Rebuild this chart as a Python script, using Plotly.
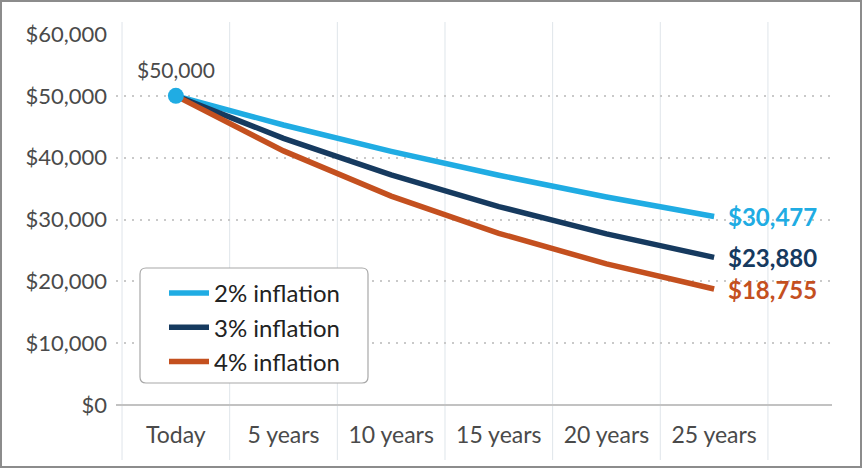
import plotly.graph_objects as go

categories = ["Today", "5 years", "10 years", "15 years", "20 years", "25 years"]
series_names = ["2% inflation", "3% inflation", "4% inflation"]
values_2 = [50000, 45287, 41017, 37151, 33649, 30477]
values_3 = [50000, 43130, 37205, 32093, 27684, 23880]
values_4 = [50000, 41096, 33778, 27763, 22819, 18755]
end_labels = ["$30,477", "$23,880", "$18,755"]
start_label = "$50,000"
y_ticks = [0, 10000, 20000, 30000, 40000, 50000, 60000]
y_ticktext = ["$0", "$10,000", "$20,000", "$30,000", "$40,000", "$50,000", "$60,000"]

colors = ["#20ace3", "#163a5f", "#c4501f"]
all_values = [values_2, values_3, values_4]

W, H = 862, 468
L, R, T, B = 116, 30, 34, 63
PW, PH = W - L - R, H - T - B


def px(p):
    return (p - L) / PW


def py(p):
    return (H - B - p) / PH


fig = go.Figure()
for i, (name, vals) in enumerate(zip(series_names, all_values)):
    fig.add_trace(go.Scatter(
        x=categories, y=vals, mode="lines", name=name,
        line=dict(color=colors[i], width=5.5),
        legendgroup=name, cliponaxis=False,
    ))

fig.add_trace(go.Scatter(
    x=[categories[0]], y=[values_2[0]], mode="markers",
    marker=dict(color=colors[0], size=16), showlegend=False, cliponaxis=False,
))

annotations = [dict(
    x=categories[0], y=values_2[0], text=start_label, showarrow=False,
    yshift=26, font=dict(family="Lato", size=21, color="#4a4a4a"),
)]
for i, vals in enumerate(all_values):
    annotations.append(dict(
        x=categories[-1], y=vals[-1], text="<b>" + end_labels[i] + "</b>",
        showarrow=False, xanchor="left", xshift=12,
        font=dict(family="Lato", size=24, color=colors[i]),
    ))

shapes = []
# vertical band separators
for k in range(7):
    shapes.append(dict(
        type="line", xref="x", yref="paper", x0=k - 0.5, x1=k - 0.5,
        y0=py(460), y1=py(22), line=dict(color="#dfe5ea", width=1), layer="below",
    ))
# rounded legend box
x0, x1, y0, y1, r = px(140), px(368), py(383), py(268), 6
rx, ry = r / PW, r / PH
path = (f"M {x0+rx},{y0} L {x1-rx},{y0} Q {x1},{y0} {x1},{y0+ry} "
        f"L {x1},{y1-ry} Q {x1},{y1} {x1-rx},{y1} L {x0+rx},{y1} "
        f"Q {x0},{y1} {x0},{y1-ry} L {x0},{y0+ry} Q {x0},{y0} {x0+rx},{y0} Z")
shapes.append(dict(type="path", xref="paper", yref="paper", path=path,
                   fillcolor="white", line=dict(color="#a8a8a8", width=1.2)))
# outer border
shapes.append(dict(type="rect", xref="paper", yref="paper",
                   x0=px(1), x1=px(861), y0=py(467), y1=py(1),
                   line=dict(color="#8c8c8c", width=2)))

fig.update_layout(
    width=W, height=H, margin=dict(l=L, r=R, t=T, b=B),
    paper_bgcolor="white", plot_bgcolor="white",
    font=dict(family="Lato", color="#4a4a4a"),
    shapes=shapes, annotations=annotations,
    legend=dict(
        x=px(164), y=py(271), xanchor="left", yanchor="top",
        bgcolor="rgba(0,0,0,0)", borderwidth=0,
        font=dict(family="Lato", size=24, color="#222222"),
        tracegroupgap=0, itemwidth=40,
    ),
    xaxis=dict(
        type="category", range=[-0.556, 6.095], showgrid=False,
        showline=False, zeroline=False, ticks="",
        tickfont=dict(family="Lato", size=23, color="#4a4a4a"),
        ticklabelstandoff=14,
    ),
    yaxis=dict(
        range=[0, 60000], tickvals=y_ticks, ticktext=y_ticktext,
        showgrid=True, gridcolor="#c9c9c9", gridwidth=2, griddash="2px,6px",
        zeroline=True, zerolinecolor="#c2c2c2", zerolinewidth=1.5,
        showline=False, ticks="",
        tickfont=dict(family="Lato", size=22, color="#4a4a4a"),
        ticklabelstandoff=8,
    ),
)

fig.write_html("out.html", config={"displayModeBar": False},
               post_script="document.body.style.margin='0';")
